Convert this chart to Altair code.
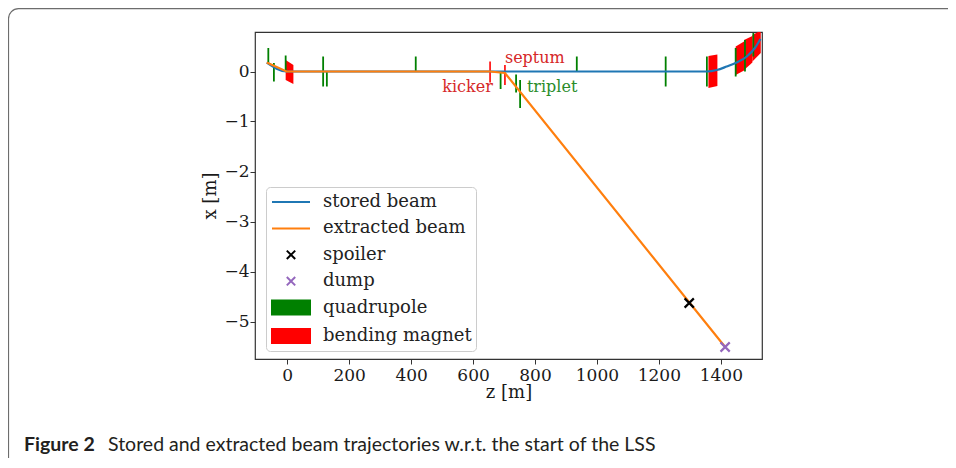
import altair as alt
import pandas as pd

# ---------------- data ----------------
# stored beam trajectory (z [m], x [m])
stored_z = [-66, -2, 1355, 1387, 1419, 1451, 1484, 1510, 1528]
stored_x = [0.18, 0.0, 0.0, 0.03, 0.10, 0.18, 0.30, 0.47, 0.65]

# extracted beam trajectory
extr_z = [-66, -2, 655, 703, 1414]
extr_x = [0.18, 0.0, 0.0, -0.03, -5.51]

# spoiler and dump markers
marker_labels = ["spoiler", "dump"]
marker_z = [1298, 1414]
marker_x = [-4.63, -5.51]
marker_colors = ["black", "#9467bd"]

# quadrupoles (position, lower end, upper end)
quad_z = [-61, -43, -5, 116, 128, 415, 689, 739, 752, 935, 1222, 1355, 1448, 1478, 1505]
quad_lo = [0.17, -0.2, 0.0, -0.3, -0.3, 0.0, -0.35, -0.42, -0.73, 0.0, -0.3, -0.3, -0.1, 0.0, 0.3]
quad_hi = [0.47, 0.17, 0.32, 0.3, 0.0, 0.3, 0.0, -0.06, -0.17, 0.3, 0.3, 0.3, 0.47, 0.63, 0.77]

# kicker and septum
kick_z = [655, 703]
kick_lo = [-0.22, -0.27]
kick_hi = [0.2, 0.13]

# bending magnets (two edges each)
mag_id = ["A", "A", "B", "B", "C", "C", "D", "D", "E", "E"]
mag_z = [-5, 20, 1360, 1389, 1448, 1475, 1475, 1502, 1502, 1529]
mag_lo = [-0.17, -0.25, -0.33, -0.29, -0.07, 0.02, 0.03, 0.18, 0.2, 0.37]
mag_hi = [0.23, 0.13, 0.31, 0.34, 0.5, 0.6, 0.63, 0.71, 0.73, 0.82]

# annotations
label_text = ["kicker", "septum", "triplet"]
label_z = [664, 703, 774]
label_x = [-0.31, 0.27, -0.31]
label_color = ["#d62728", "#d62728", "#2a8c2a"]

# legend
legend_labels = ["stored beam", "extracted beam", "spoiler", "dump", "quadrupole", "bending magnet"]
legend_colors = ["#1f77b4", "#ff7f0e", "black", "#9467bd", "green", "red"]
LINE = "M-1.9,0H1.9"
XMARK = "M-0.42,-0.42L0.42,0.42M-0.42,0.42L0.42,-0.42"
RECT = "M-1.9,-0.7H1.9V0.7H-1.9Z"
legend_shapes = [LINE, LINE, XMARK, XMARK, RECT, RECT]

x_ticks = [0, 200, 400, 600, 800, 1000, 1200, 1400]
y_ticks = [-5, -4, -3, -2, -1, 0]

# ---------------- tables ----------------
stored = pd.DataFrame({"z": stored_z, "x": stored_x})
extr = pd.DataFrame({"z": extr_z, "x": extr_x})
markers = pd.DataFrame({"z": marker_z, "x": marker_x, "label": marker_labels, "col": marker_colors})
quads = pd.DataFrame({"z": quad_z, "lo": quad_lo, "hi": quad_hi})
kicks = pd.DataFrame({"z": kick_z, "lo": kick_lo, "hi": kick_hi})
mags = pd.DataFrame({"id": mag_id, "z": mag_z, "lo": mag_lo, "hi": mag_hi})
labels = pd.DataFrame({"text": label_text, "z": label_z, "x": label_x, "col": label_color})
leg = pd.DataFrame({"label": legend_labels, "z": [-10000] * 6, "x": [0.0] * 6})

SERIF = "DejaVu Serif"
xs = alt.Scale(domain=[-104, 1533], nice=False, zero=False)
ys = alt.Scale(domain=[-5.75, 0.79], nice=False, zero=False)
xaxis = alt.Axis(values=x_ticks, title="z [m]", grid=False, format="d", labelPadding=3)
yaxis = alt.Axis(values=y_ticks, title="x [m]", grid=False, format="d", labelPadding=1)


def X():
    return alt.X("z:Q", scale=xs, axis=xaxis)


def Y(field):
    return alt.Y(f"{field}:Q", scale=ys, axis=yaxis)


magnet_layer = alt.Chart(mags).mark_area(clip=True, color="red", opacity=1).encode(
    x=X(), y=Y("lo"), y2="hi:Q", detail="id:N"
)
quad_layer = alt.Chart(quads).mark_rule(clip=True, color="green", strokeWidth=1.8).encode(
    x=X(), y=Y("lo"), y2="hi:Q"
)
kick_layer = alt.Chart(kicks).mark_rule(clip=True, color="red", strokeWidth=1.6).encode(
    x=X(), y=Y("lo"), y2="hi:Q"
)
stored_layer = alt.Chart(stored).mark_line(clip=True, color="#1f77b4", strokeWidth=2.2,
                                           interpolate="monotone").encode(x=X(), y=Y("x"))
extr_layer = alt.Chart(extr).mark_line(clip=True, color="#ff7f0e", strokeWidth=2.2).encode(
    x=X(), y=Y("x")
)
marker_layer = alt.Chart(markers).mark_point(shape=XMARK, size=480, strokeWidth=2.2,
                                             filled=False, opacity=1).encode(
    x=X(), y=Y("x"), stroke=alt.Stroke("col:N", scale=None)
)
text_right = alt.Chart(labels[labels.text == "kicker"]).mark_text(
    align="right", baseline="middle", font=SERIF, fontSize=16
).encode(x=X(), y=Y("x"), text="text:N", color=alt.Color("col:N", scale=None))
text_left = alt.Chart(labels[labels.text != "kicker"]).mark_text(
    align="left", baseline="middle", font=SERIF, fontSize=16
).encode(x=X(), y=Y("x"), text="text:N", color=alt.Color("col:N", scale=None))

lg = alt.Legend(
    title=None, orient="none", legendX=11, legendY=155,
    labelFont=SERIF, labelFontSize=18, labelColor="#222", labelLimit=300,
    symbolSize=400, symbolStrokeWidth=2, symbolOffset=10, labelOffset=21,
    rowPadding=6.4, padding=4, fillColor="white", strokeColor="#cccccc",
    cornerRadius=4, symbolOpacity=1,
)
legend_layer = alt.Chart(leg).mark_point(clip=True, filled=True, opacity=1, strokeWidth=2).encode(
    x=X(), y=Y("x"),
    fill=alt.Fill("label:N", scale=alt.Scale(domain=legend_labels, range=legend_colors),
                  sort=legend_labels, legend=lg),
    stroke=alt.Stroke("label:N", scale=alt.Scale(domain=legend_labels, range=legend_colors),
                      sort=legend_labels, legend=lg),
    shape=alt.Shape("label:N", scale=alt.Scale(domain=legend_labels, range=legend_shapes),
                    sort=legend_labels, legend=lg),
)

one = alt.Data(values=[{}])
frame = alt.Chart(one).mark_rect(filled=False, stroke="#6d6d6d", strokeWidth=1.2,
                                 cornerRadius=10).encode(
    x=alt.value(-246.5), x2=alt.value(720), y=alt.value(-23.3), y2=alt.value(445)
)
cap_bold = alt.Chart(one).mark_text(
    text="Figure 2", align="left", baseline="alphabetic", font="Lato", fontSize=19.5,
    fontWeight="bold", color="#231f20"
).encode(x=alt.value(-231), y=alt.value(419))
cap_text = alt.Chart(one).mark_text(
    text="Stored and extracted beam trajectories w.r.t. the start of the LSS",
    align="left", baseline="alphabetic", font="Lato", fontSize=19.5, color="#231f20"
).encode(x=alt.value(-147), y=alt.value(419))

chart = alt.layer(
    frame, magnet_layer, quad_layer, kick_layer, stored_layer, extr_layer,
    marker_layer, text_right, text_left, legend_layer, cap_bold, cap_text
).properties(
    width=507, height=327,
    padding={"left": 247, "top": 24, "right": 186, "bottom": 99},
    autosize=alt.AutoSizeParams(type="none"),
).configure_view(
    stroke="#333333", strokeWidth=1.2
).configure_axis(
    domain=False, grid=False, tickColor="#333333", tickSize=5, tickWidth=1,
    labelFont=SERIF, labelFontSize=17, labelColor="#1a1a1a",
    titleFont=SERIF, titleFontSize=18, titleFontWeight="normal", titleColor="#1a1a1a",
).configure_axisX(titlePadding=0).configure_axisY(titlePadding=4)

chart.save("out.html", embed_options={"renderer": "svg", "actions": False})
